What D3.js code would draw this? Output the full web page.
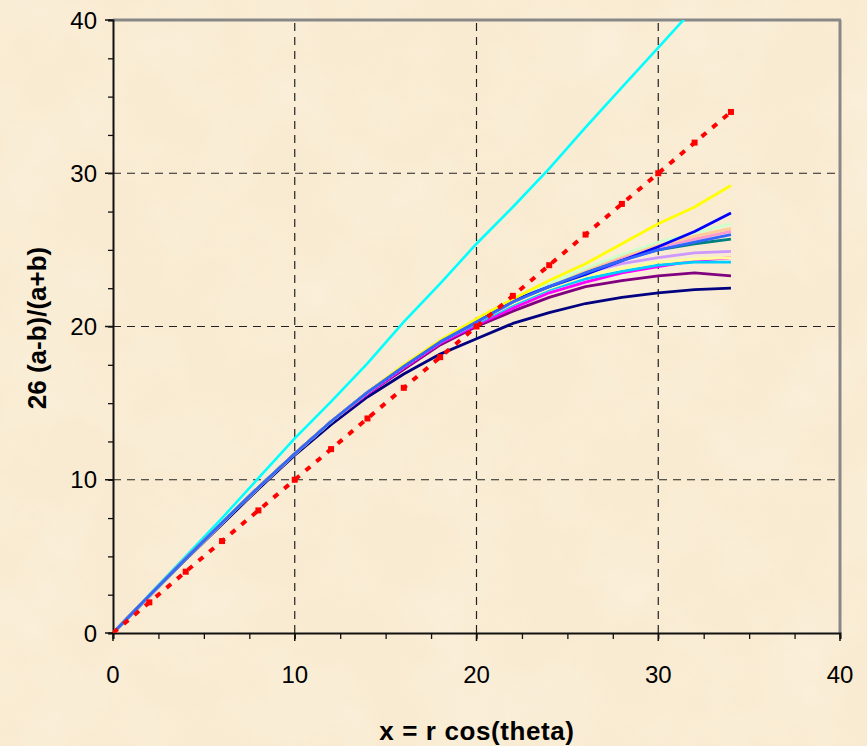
<!DOCTYPE html>
<html>
<head>
<meta charset="utf-8">
<script src="https://cdn.jsdelivr.net/npm/d3@7"></script>
<style>
  body { margin: 0; background: #f9ecd3; }
  svg { display: block; }
</style>
</head>
<body>
<svg id="chart" width="867" height="746"></svg>
<script>
// x positions of every series
const xs = [0, 2, 4, 6, 8, 10, 12, 14, 16, 18, 20, 22, 24, 26, 28, 30, 32, 34];

// reference line y = x (red, dotted)
const refY = [0, 2, 4, 6, 8, 10, 12, 14, 16, 18, 20, 22, 24, 26, 28, 30, 32, 34];

// cyan line, runs off the top
const cyanY = [0, 2.5, 5.0, 7.5, 10.1, 12.7, 15.1, 17.6, 20.3, 22.8, 25.4, 27.8, 30.3, 33.0, 35.6, 38.2, 40.8, 43.4];

const seriesNames = ['navy', 'purple', 'magenta', 'skyblue', 'paleyellow', 'lavender', 'teal',
                     'pink', 'peach', 'palegreen', 'blue', 'yellow', 'royalblue'];
const seriesColors = ['#000080', '#800080', '#ff00ff', '#00ccff', '#ffff99', '#cc99ff', '#008080',
                      '#ff99cc', '#ffcc99', '#ccffcc', '#0000ff', '#ffff00', '#3366ff'];

const navyY       = [0, 2.4, 4.8, 7.1, 9.4, 11.6, 13.6, 15.4, 16.9, 18.2, 19.2, 20.2, 20.9, 21.5, 21.9, 22.2, 22.4, 22.5];
const purpleY     = [0, 2.45, 4.85, 7.2, 9.5, 11.7, 13.8, 15.6, 17.2, 18.8, 20.0, 21.0, 21.9, 22.6, 23.0, 23.3, 23.5, 23.3];
const magentaY    = [0, 2.45, 4.85, 7.2, 9.5, 11.7, 13.8, 15.6, 17.3, 18.9, 20.1, 21.2, 22.2, 22.9, 23.5, 23.9, 24.3, 24.5];
const skyblueY    = [0, 2.45, 4.85, 7.2, 9.5, 11.7, 13.8, 15.7, 17.4, 19.0, 20.2, 21.4, 22.4, 23.1, 23.6, 24.0, 24.2, 24.2];
const paleyellowY = [0, 2.45, 4.85, 7.2, 9.5, 11.7, 13.8, 15.7, 17.4, 19.0, 20.3, 21.5, 22.5, 23.3, 23.8, 24.2, 24.4, 24.5];
const lavenderY   = [0, 2.45, 4.85, 7.2, 9.5, 11.7, 13.8, 15.7, 17.4, 19.0, 20.3, 21.6, 22.6, 23.5, 24.1, 24.5, 24.8, 24.9];
const tealY       = [0, 2.45, 4.85, 7.2, 9.5, 11.7, 13.8, 15.7, 17.4, 19.0, 20.3, 21.6, 22.7, 23.6, 24.4, 25.0, 25.4, 25.7];
const pinkY       = [0, 2.45, 4.85, 7.2, 9.5, 11.7, 13.8, 15.7, 17.4, 19.0, 20.3, 21.6, 22.7, 23.7, 24.5, 25.2, 25.7, 26.2];
const peachY      = [0, 2.45, 4.85, 7.2, 9.5, 11.7, 13.8, 15.7, 17.4, 19.0, 20.3, 21.6, 22.7, 23.7, 24.6, 25.3, 25.9, 26.4];
const palegreenY  = [0, 2.45, 4.85, 7.2, 9.5, 11.7, 13.8, 15.7, 17.4, 19.0, 20.3, 21.7, 22.8, 23.8, 24.7, 25.5, 26.1, 26.7];
const blueY       = [0, 2.45, 4.85, 7.2, 9.5, 11.7, 13.8, 15.7, 17.4, 19.0, 20.3, 21.7, 22.6, 23.4, 24.3, 25.2, 26.2, 27.4];
const yellowY     = [0, 2.45, 4.85, 7.2, 9.5, 11.7, 13.8, 15.7, 17.5, 19.1, 20.5, 21.8, 23.0, 24.1, 25.4, 26.7, 27.8, 29.2];
const royalblueY  = [0, 2.45, 4.85, 7.2, 9.5, 11.7, 13.8, 15.7, 17.4, 19.0, 20.3, 21.6, 22.6, 23.5, 24.3, 25.0, 25.5, 26.0];

const seriesValues = [navyY, purpleY, magentaY, skyblueY, paleyellowY, lavenderY, tealY,
                      pinkY, peachY, palegreenY, blueY, yellowY, royalblueY];

const majorTicks = [0, 10, 20, 30, 40];
const minorTicks = d3.range(0, 40.01, 2.5);

const svg = d3.select('#chart');
const plotL = 113, plotR = 840, plotT = 20, plotB = 633;

const x = d3.scaleLinear().domain([0, 40]).range([plotL, plotR]);
const y = d3.scaleLinear().domain([0, 40]).range([plotB, plotT]);

// parchment background
const defs = svg.append('defs');
const f = defs.append('filter').attr('id', 'paper').attr('x', 0).attr('y', 0).attr('width', 1).attr('height', 1);
f.append('feTurbulence').attr('type', 'fractalNoise').attr('baseFrequency', 0.012)
  .attr('numOctaves', 4).attr('seed', 7);
f.append('feColorMatrix').attr('type', 'matrix')
  .attr('values', '0 0 0 0 1  0 0 0 0 0.98  0 0 0 0 0.94  0.9 0 0 0 -0.35');
defs.append('clipPath').attr('id', 'plotclip')
  .append('rect').attr('x', plotL).attr('y', plotT).attr('width', plotR - plotL).attr('height', plotB - plotT);

svg.append('rect').attr('width', 867).attr('height', 746).attr('fill', '#f9ebd1');
svg.append('rect').attr('width', 867).attr('height', 746).attr('filter', 'url(#paper)').attr('opacity', 0.55);

// grid
const grid = svg.append('g').attr('stroke', '#222').attr('stroke-width', 1.2).attr('stroke-dasharray', '8,6');
[10, 20, 30].forEach(v => {
  grid.append('line').attr('x1', x(v)).attr('x2', x(v)).attr('y1', plotB).attr('y2', plotT);
  grid.append('line').attr('x1', plotL).attr('x2', plotR).attr('y1', y(v)).attr('y2', y(v));
});

// frame: gray top/right
svg.append('line').attr('x1', plotL).attr('x2', plotR + 1).attr('y1', plotT).attr('y2', plotT)
  .attr('stroke', '#888').attr('stroke-width', 3);
svg.append('line').attr('x1', plotR).attr('x2', plotR).attr('y1', plotT).attr('y2', plotB)
  .attr('stroke', '#888').attr('stroke-width', 3);

// axes
const yAxis = svg.append('g').attr('transform', 'translate(' + plotL + ',0)');
yAxis.call(d3.axisLeft(y).tickValues(minorTicks).tickSize(5).tickFormat(''));
yAxis.call(g => g.select('.domain').attr('stroke', '#111').attr('stroke-width', 2));
yAxis.selectAll('.tick line').attr('stroke', '#111').attr('stroke-width', 1.3);

const xAxis = svg.append('g').attr('transform', 'translate(0,' + plotB + ')');
xAxis.call(d3.axisBottom(x).tickValues(minorTicks).tickSize(6).tickFormat(''));
xAxis.call(g => g.select('.domain').attr('stroke', '#111').attr('stroke-width', 2));
xAxis.selectAll('.tick line').attr('stroke', '#111').attr('stroke-width', 1.3);

svg.append('g').selectAll('line').data(majorTicks).enter().append('line')
  .attr('x1', plotL - 8).attr('x2', plotL).attr('y1', d => y(d)).attr('y2', d => y(d))
  .attr('stroke', '#111').attr('stroke-width', 1.5);
svg.append('g').selectAll('line').data(majorTicks).enter().append('line')
  .attr('x1', d => x(d)).attr('x2', d => x(d)).attr('y1', plotB).attr('y2', plotB + 8)
  .attr('stroke', '#111').attr('stroke-width', 1.5);

// tick labels
svg.append('g').selectAll('text').data(majorTicks).enter().append('text')
  .attr('x', plotL - 16).attr('y', d => y(d)).attr('dy', '0.36em')
  .attr('text-anchor', 'end').attr('font-family', 'Liberation Sans, Arial, sans-serif')
  .attr('font-size', 24).attr('fill', '#000').text(d => d);
svg.append('g').selectAll('text').data(majorTicks).enter().append('text')
  .attr('x', d => x(d)).attr('y', 683)
  .attr('text-anchor', 'middle').attr('font-family', 'Liberation Sans, Arial, sans-serif')
  .attr('font-size', 24).attr('fill', '#000').text(d => d);

// axis titles
svg.append('text').attr('x', 477).attr('y', 740).attr('text-anchor', 'middle')
  .attr('font-family', 'Liberation Sans, Arial, sans-serif').attr('font-weight', 'bold')
  .attr('font-size', 26).attr('letter-spacing', 0.6).attr('fill', '#000').text('x = r cos(theta)');
svg.append('text').attr('transform', 'translate(46,328) rotate(-90)').attr('text-anchor', 'middle')
  .attr('font-family', 'Liberation Sans, Arial, sans-serif').attr('font-weight', 'bold')
  .attr('font-size', 26).attr('fill', '#000').text('26 (a-b)/(a+b)');

// lines
const line = d3.line().x((d, i) => x(xs[i])).y(d => y(d));
const plot = svg.append('g').attr('clip-path', 'url(#plotclip)');

plot.append('path').datum(cyanY).attr('d', line).attr('fill', 'none')
  .attr('stroke', '#00ffff').attr('stroke-width', 2.6);

plot.selectAll('.series').data(seriesValues).enter().append('path')
  .attr('class', 'series')
  .attr('d', line).attr('fill', 'none')
  .attr('stroke', (d, i) => seriesColors[i]).attr('stroke-width', 2.8)
  .attr('stroke-linejoin', 'round');

// red dotted y = x with small markers
plot.append('path').datum(refY).attr('d', line).attr('fill', 'none')
  .attr('stroke', '#ff0000').attr('stroke-width', 4).attr('stroke-dasharray', '6,8');
plot.selectAll('.mk').data(refY).enter().append('rect').attr('class', 'mk')
  .attr('x', (d, i) => x(xs[i]) - 3).attr('y', d => y(d) - 3)
  .attr('width', 6).attr('height', 6).attr('fill', '#ff0000');
</script>
</body>
</html>
